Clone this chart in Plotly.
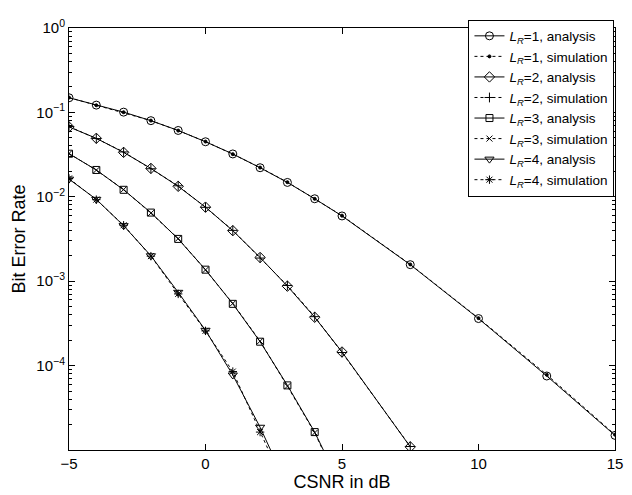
import plotly.graph_objects as go
import numpy as np

# CSNR points (dB)
x_all = [-5, -4, -3, -2, -1, 0, 1, 2, 3, 4, 5, 7.5, 10, 12.5, 15]

# L_R = 1
x1 = x_all
ber1_ana = [0.149, 0.122, 0.1007, 0.0798, 0.0611, 0.0449, 0.0322, 0.0221, 0.0148,
            0.00948, 0.00593, 0.00157, 3.61e-4, 7.53e-5, 1.49e-5]
ber1_sim = [0.150, 0.1215, 0.1005, 0.0800, 0.0609, 0.0451, 0.0320, 0.0222, 0.0149,
            0.00945, 0.00598, 0.00158, 3.65e-4, 7.8e-5, 1.52e-5]

# L_R = 2
x2 = [-5, -4, -3, -2, -1, 0, 1, 2, 3, 4, 5, 7.5]
ber2_ana = [0.0673, 0.0493, 0.0336, 0.0217, 0.0133, 0.00754, 0.00397, 0.00191,
            8.73e-4, 3.74e-4, 1.45e-4, 1.09e-5]
ber2_sim = [0.0680, 0.0490, 0.0340, 0.0215, 0.0135, 0.00750, 0.00400, 0.00188,
            8.9e-4, 3.80e-4, 1.43e-4, 1.10e-5]

# L_R = 3
x3 = [-5, -4, -3, -2, -1, 0, 1, 2, 3, 4, 5]
ber3_ana = [0.0324, 0.0208, 0.0121, 0.0065, 0.00317, 0.00137, 5.39e-4, 1.92e-4,
            5.83e-5, 1.63e-5, 3.5e-6]
ber3_sim = [0.0326, 0.0207, 0.0122, 0.0064, 0.00320, 0.00136, 5.45e-4, 1.95e-4,
            5.7e-5, 1.60e-5, 3.3e-6]

# L_R = 4
x4 = [-5, -4, -3, -2, -1, 0, 1, 2, 3]
ber4_ana = [0.0162, 0.00933, 0.00455, 0.00200, 7.38e-4, 2.62e-4, 7.74e-5, 1.86e-5, 3.7e-6]
ber4_sim = [0.0165, 0.00925, 0.00460, 0.00198, 7.07e-4, 2.58e-4, 8.5e-5, 1.63e-5, 3.2e-6]

x_ticks = [-5, 0, 5, 10, 15]
y_ticks = [1e-5, 1e-4, 1e-3, 1e-2, 1e-1, 1]
y_ticktext = ["", "10<sup>\u22124</sup>", "10<sup>\u22123</sup>", "10<sup>\u22122</sup>",
              "10<sup>\u22121</sup>", "10<sup>0</sup>"]
y_minor = [k * 10.0 ** d for d in range(-5, 0) for k in range(2, 10)]

def lab(n, kind):
    return "<i>L</i><sub><i>R</i></sub>=%d, %s" % (n, kind)

series = [
    (x1, ber1_ana, ber1_sim, 1, "circle-open", 8, "circle", 3),
    (x2, ber2_ana, ber2_sim, 2, "diamond-open", 8, "cross-thin-open", 7),
    (x3, ber3_ana, ber3_sim, 3, "square-open", 7, "x-thin-open", 6),
    (x4, ber4_ana, ber4_sim, 4, "triangle-down-open", 8, "asterisk-open", 7),
]

fig = go.Figure()
for xs, ana, sim, n, sym_a, sz_a, sym_s, sz_s in series:
    fig.add_trace(go.Scatter(
        x=xs, y=ana, mode="lines+markers", name=lab(n, "analysis"),
        line=dict(color="black", width=1),
        marker=dict(symbol=sym_a, size=sz_a, color="black", line=dict(width=1, color="black")),
    ))
    fig.add_trace(go.Scatter(
        x=xs, y=sim, mode="lines+markers", name=lab(n, "simulation"),
        line=dict(color="black", width=1, dash="dot"),
        marker=dict(symbol=sym_s, size=sz_s, color="black", line=dict(width=1, color="black")),
    ))

# dummy trace for minor tick axis
fig.add_trace(go.Scatter(x=[None], y=[None], yaxis="y2", showlegend=False, hoverinfo="skip"))

font_family = "Liberation Sans, Arial, Helvetica, sans-serif"

# page body has an 8px default margin; figure is sized/placed to compensate
fig.update_layout(
    width=624, height=487,
    margin=dict(l=61, r=11, t=9, b=39),
    paper_bgcolor="white", plot_bgcolor="white",
    font=dict(family=font_family, size=14, color="black"),
    showlegend=True,
    legend=dict(
        x=0.999, xanchor="right", y=1.02, yanchor="top",
        bgcolor="white", bordercolor="black", borderwidth=1,
        font=dict(family=font_family, size=13.5, color="black"),
        tracegroupgap=0, itemwidth=30,
    ),
    xaxis=dict(
        range=[-5, 15], tickvals=x_ticks, ticks="inside", ticklen=6, tickcolor="black",
        showline=True, linecolor="black", linewidth=1, mirror="ticks",
        showgrid=False, zeroline=False,
        tickfont=dict(size=15), ticklabeloverflow="allow",
        title=dict(text="CSNR in dB", font=dict(size=18), standoff=1),
    ),
    yaxis=dict(
        type="log", range=[-5, 0], tickvals=y_ticks, ticktext=y_ticktext,
        ticks="inside", ticklen=6, tickcolor="black",
        showline=True, linecolor="black", linewidth=1, mirror="ticks",
        showgrid=False, zeroline=False,
        tickfont=dict(size=15), ticklabeloverflow="allow",
        title=dict(text="Bit Error Rate", font=dict(size=18), standoff=6),
    ),
    yaxis2=dict(
        type="log", range=[-5, 0], overlaying="y", side="left",
        tickvals=y_minor, ticks="inside", ticklen=3, tickcolor="black",
        showticklabels=False, showline=False, mirror="ticks",
        showgrid=False, zeroline=False,
    ),
)

fig.write_html("out.html")
